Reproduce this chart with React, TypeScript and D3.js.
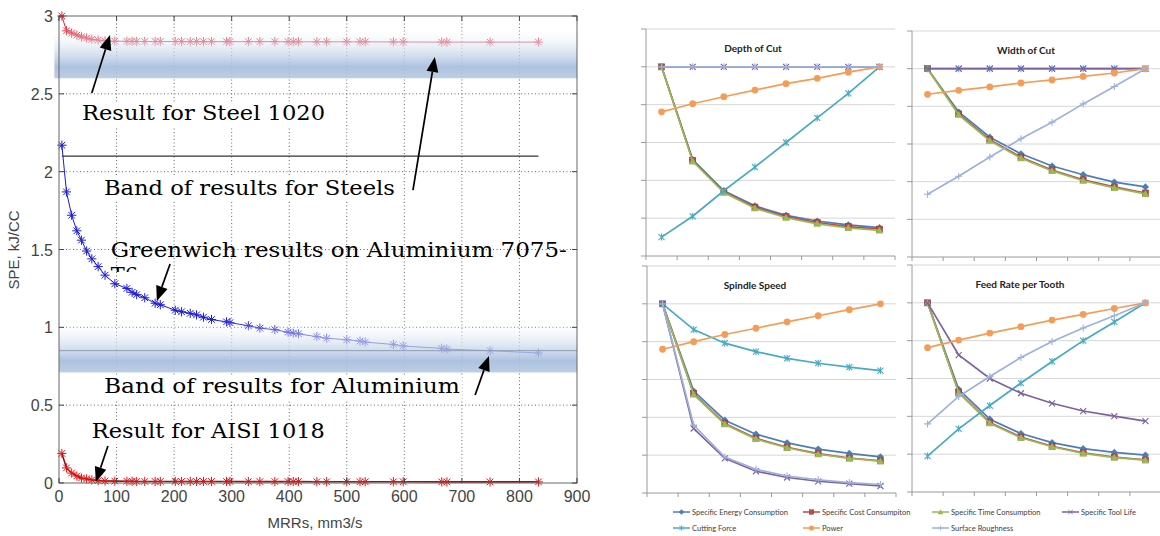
import * as d3 from "d3";

// ---------- left chart (MATLAB style) ----------
const mrr = [5, 13, 22, 31, 39, 48, 57, 68, 80, 97, 118, 127, 135, 149, 167, 176, 202, 213, 228, 239, 251, 265, 291, 297, 329, 349, 375, 398, 407, 416, 448, 465, 500, 523, 532, 581, 598, 665, 674, 749, 833];
const steel1020 = [3.0, 2.905, 2.89, 2.877, 2.866, 2.858, 2.85, 2.845, 2.84, 2.838, 2.837, 2.837, 2.836, 2.836, 2.836, 2.836, 2.836, 2.835, 2.835, 2.835, 2.835, 2.835, 2.835, 2.835, 2.835, 2.835, 2.835, 2.834, 2.834, 2.834, 2.834, 2.834, 2.834, 2.834, 2.834, 2.833, 2.833, 2.832, 2.832, 2.832, 2.832];
const al7075 = [2.17, 1.87, 1.72, 1.62, 1.56, 1.49, 1.44, 1.39, 1.335, 1.28, 1.25, 1.225, 1.21, 1.19, 1.155, 1.145, 1.11, 1.1, 1.09, 1.08, 1.065, 1.05, 1.035, 1.03, 1.01, 0.995, 0.985, 0.968, 0.962, 0.958, 0.94, 0.93, 0.92, 0.912, 0.905, 0.89, 0.88, 0.865, 0.86, 0.85, 0.835];
const aisi1018 = [0.19, 0.097, 0.064, 0.045, 0.032, 0.026, 0.02, 0.015, 0.013, 0.012, 0.011, 0.011, 0.01, 0.01, 0.01, 0.01, 0.01, 0.01, 0.01, 0.01, 0.01, 0.01, 0.01, 0.01, 0.009, 0.009, 0.009, 0.009, 0.009, 0.009, 0.008, 0.008, 0.008, 0.008, 0.008, 0.008, 0.008, 0.007, 0.007, 0.007, 0.007];

const xTicks = [0, 100, 200, 300, 400, 500, 600, 700, 800, 900];
const yTicks = [0, 0.5, 1, 1.5, 2, 2.5, 3];

const steelBand = [2.6, 2.935];
const aluBand = [0.71, 1.05];
const aluBandLine = 0.85;
const steelRefLine = 2.1;

const labels = [
  { text: "Result for Steel 1020", x: 40, y: 2.332, w: 243, box: true },
  { text: "Band of results for Steels", x: 78, y: 1.85, w: 291, box: true },
  { text: "Greenwich results on Aluminium 7075-", x: 90, y: 1.452, w: 456, box: false },
  { text: "Band of results for Aluminium", x: 78, y: 0.578, w: 356, box: true },
  { text: "Result for AISI 1018", x: 57, y: 0.289, w: 233, box: true },
];
const arrows = [
  { x1: 57, y1: 2.505, x2: 88.6, y2: 2.878 },
  { x1: 615, y1: 1.882, x2: 653, y2: 2.737 },
  { x1: 193, y1: 1.407, x2: 170, y2: 1.169 },
  { x1: 723, y1: 0.565, x2: 747, y2: 0.816 },
  { x1: 85, y1: 0.238, x2: 64, y2: 0.006 },
];

// ---------- right panels (Excel style) ----------
const levels = ["1", "2", "3", "4", "5", "6", "7", "8"];
const seriesNames = ["Specific Energy Consumption", "Specific Cost Consumpiton", "Specific Time Consumption", "Specific Tool Life", "Cutting Force", "Power", "Surface Roughness"];
const seriesColors = ["#4a7ebb", "#be4b48", "#98b954", "#7d60a0", "#46aac5", "#f59d56", "#9db1dc"];
const seriesMarkers = ["diamond", "square", "triangle", "x", "star", "circle", "plus"];
const drawOrder = [0, 1, 2, 4, 3, 5, 6];

const docEnergy = [1, 0.51, 0.345, 0.265, 0.215, 0.185, 0.165, 0.15];
const docCost = [1, 0.505, 0.34, 0.258, 0.208, 0.177, 0.155, 0.142];
const docTime = [1, 0.5, 0.335, 0.252, 0.202, 0.17, 0.148, 0.135];
const docToolLife = [1, 1, 1, 1, 1, 1, 1, 1];
const docForce = [0.1, 0.21, 0.345, 0.47, 0.6, 0.73, 0.86, 1];
const docPower = [0.762, 0.805, 0.842, 0.877, 0.911, 0.939, 0.972, 1];
const docRoughness = [1, 1, 1, 1, 1, 1, 1, 1];

const wocEnergy = [1, 0.77, 0.636, 0.548, 0.483, 0.437, 0.398, 0.372];
const wocCost = [1, 0.76, 0.622, 0.53, 0.462, 0.41, 0.372, 0.34];
const wocTime = [1, 0.755, 0.617, 0.525, 0.457, 0.405, 0.367, 0.335];
const wocToolLife = [1, 1, 1, 1, 1, 1, 1, 1];
const wocForce = [1, 1, 1, 1, 1, 1, 1, 1];
const wocPower = [0.864, 0.885, 0.903, 0.924, 0.94, 0.959, 0.977, 1];
const wocRoughness = [0.333, 0.429, 0.531, 0.628, 0.716, 0.813, 0.905, 1];

const ssEnergy = [1, 0.539, 0.385, 0.311, 0.265, 0.232, 0.209, 0.191];
const ssCost = [1, 0.525, 0.367, 0.289, 0.242, 0.208, 0.185, 0.17];
const ssTime = [1, 0.521, 0.363, 0.285, 0.239, 0.205, 0.183, 0.168];
const ssToolLife = [1, 0.341, 0.183, 0.115, 0.082, 0.062, 0.05, 0.037];
const ssForce = [1, 0.864, 0.792, 0.747, 0.712, 0.686, 0.665, 0.647];
const ssPower = [0.76, 0.8, 0.838, 0.871, 0.905, 0.937, 0.969, 1];
const ssRoughness = [1, 0.359, 0.19, 0.125, 0.09, 0.07, 0.055, 0.045];

const frEnergy = [1, 0.543, 0.385, 0.309, 0.261, 0.229, 0.209, 0.195];
const frCost = [1, 0.528, 0.367, 0.29, 0.242, 0.207, 0.185, 0.17];
const frTime = [1, 0.525, 0.363, 0.287, 0.239, 0.204, 0.182, 0.168];
const frToolLife = [1, 0.724, 0.6, 0.522, 0.469, 0.428, 0.401, 0.375];
const frForce = [0.19, 0.334, 0.457, 0.576, 0.69, 0.8, 0.899, 1];
const frPower = [0.763, 0.803, 0.84, 0.874, 0.909, 0.939, 0.97, 1];
const frRoughness = [0.36, 0.505, 0.611, 0.711, 0.796, 0.867, 0.932, 1];

const panels = [
  { title: "Depth of Cut", left: 646, top: 29, bottom: 256, titleX: 107, data: [docEnergy, docCost, docTime, docToolLife, docForce, docPower, docRoughness] },
  { title: "Width of Cut", left: 912, top: 31, bottom: 257, titleX: 114, data: [wocEnergy, wocCost, wocTime, wocToolLife, wocForce, wocPower, wocRoughness] },
  { title: "Spindle Speed", left: 647, top: 266, bottom: 493, titleX: 108, data: [ssEnergy, ssCost, ssTime, ssToolLife, ssForce, ssPower, ssRoughness] },
  { title: "Feed Rate per Tooth", left: 912, top: 265, bottom: 492, titleX: 108, data: [frEnergy, frCost, frTime, frToolLife, frForce, frPower, frRoughness] },
];

const excelFont = "Lato, 'Open Sans', sans-serif";

function starPath(cx: number, cy: number, r: number) {
  const d = r * 0.72;
  return `M${cx - r},${cy}h${2 * r}M${cx},${cy - r}v${2 * r}M${cx - d},${cy - d}l${2 * d},${2 * d}M${cx - d},${cy + d}l${2 * d},${-2 * d}`;
}

function Arrow({ x1, y1, x2, y2 }: { x1: number; y1: number; x2: number; y2: number }) {
  const a = Math.atan2(y2 - y1, x2 - x1);
  const L = 15, W = 6;
  const bx = x2 - L * Math.cos(a), by = y2 - L * Math.sin(a);
  const pts = [
    [x2, y2],
    [bx + W * Math.sin(a), by - W * Math.cos(a)],
    [bx - W * Math.sin(a), by + W * Math.cos(a)],
  ];
  return (
    <g>
      <line x1={x1} y1={y1} x2={bx} y2={by} stroke="#000" strokeWidth={1.7} />
      <polygon points={pts.map((p) => p.join(",")).join(" ")} fill="#000" />
    </g>
  );
}

function LeftChart() {
  const x = d3.scaleLinear().domain([0, 900]).range([59, 577]);
  const y = d3.scaleLinear().domain([0, 3]).range([483, 16]);
  const line = d3.line<number>().x((_, i) => x(mrr[i])).y((d) => y(d));
  const [x0, x1] = x.range();
  const [y0, y1] = y.range();

  const series = [
    { values: steel1020, color: "#e02a3c" },
    { values: al7075, color: "#1a1ad8" },
    { values: aisi1018, color: "#e01414", lineColor: "#a80a0a" },
  ];

  return (
    <g>
      <defs>
        <linearGradient id="bandGrad" x1="0" y1="0" x2="0" y2="1">
          <stop offset="0%" stopColor="#ffffff" stopOpacity={0} />
          <stop offset="35%" stopColor="#e3eaf4" stopOpacity={0.6} />
          <stop offset="78%" stopColor="#a4bcdc" stopOpacity={0.9} />
          <stop offset="100%" stopColor="#b6c9e3" stopOpacity={0.9} />
        </linearGradient>
        <clipPath id="t6clip">
          <rect x={100} y={255} width={60} height={17} />
        </clipPath>
      </defs>

      {/* grid */}
      {xTicks.slice(1, -1).map((t) => (
        <line key={"gx" + t} x1={x(t)} x2={x(t)} y1={y0} y2={y1} stroke="#666" strokeWidth={1} strokeDasharray="1,2.5" />
      ))}
      {yTicks.slice(1, -1).map((t) => (
        <line key={"gy" + t} x1={x0} x2={x1} y1={y(t)} y2={y(t)} stroke="#666" strokeWidth={1} strokeDasharray="1,2.5" />
      ))}

      {/* reference line */}
      <line x1={x(mrr[0])} x2={x(mrr[mrr.length - 1])} y1={y(steelRefLine)} y2={y(steelRefLine)} stroke="#000" strokeWidth={1} />

      {/* series */}
      {series.map((s, k) => (
        <g key={k}>
          <path d={line(s.values) || ""} fill="none" stroke={s.lineColor || s.color} strokeWidth={k === 2 ? 1.6 : 1} />
          {s.values.map((v, i) => (
            <path key={i} d={starPath(x(mrr[i]), y(v), 4.6)} stroke={s.color} strokeWidth={1} fill="none" />
          ))}
        </g>
      ))}

      {/* bands drawn over the series */}
      <rect x={x(-8)} y={y(steelBand[1])} width={x1 - x(-8)} height={y(steelBand[0]) - y(steelBand[1])} fill="url(#bandGrad)" />
      <rect x={x0} y={y(aluBand[1])} width={x1 - x0} height={y(aluBand[0]) - y(aluBand[1])} fill="url(#bandGrad)" />
      <line x1={x0} x2={x1} y1={y(aluBandLine)} y2={y(aluBandLine)} stroke="#8d9cb2" strokeWidth={1} />

      {/* axes box */}
      <rect x={x0} y={y1} width={x1 - x0} height={y0 - y1} fill="none" stroke="#666" strokeWidth={1} />
      {xTicks.map((t) => (
        <g key={"tx" + t}>
          <line x1={x(t)} x2={x(t)} y1={y0} y2={y0 - 5} stroke="#444" />
          <line x1={x(t)} x2={x(t)} y1={y1} y2={y1 + 5} stroke="#444" />
          <text x={x(t)} y={y0 + 19} textAnchor="middle" fontFamily="'Liberation Sans', Arial, sans-serif" fontSize={16} fill="#444">{t}</text>
        </g>
      ))}
      {yTicks.map((t) => (
        <g key={"ty" + t}>
          <line x1={x0} x2={x0 + 5} y1={y(t)} y2={y(t)} stroke="#444" />
          <line x1={x1} x2={x1 - 5} y1={y(t)} y2={y(t)} stroke="#444" />
          <text x={x0 - 6} y={y(t) + 6} textAnchor="end" fontFamily="'Liberation Sans', Arial, sans-serif" fontSize={16} fill="#444">{t}</text>
        </g>
      ))}
      <text x={(x0 + x1) / 2 - 3} y={528} textAnchor="middle" fontFamily="'Liberation Sans', Arial, sans-serif" fontSize={15} fill="#444">MRRs, mm3/s</text>
      <text transform={`translate(19,250) rotate(-90)`} textAnchor="middle" fontFamily="'Liberation Sans', Arial, sans-serif" fontSize={15} fill="#444">SPE, kJ/CC</text>

      {/* annotations */}
      {labels.map((l, i) => (
        <g key={"l" + i}>
          {l.box && <rect x={x(l.x) - 2} y={y(l.y) - 18} width={l.w + 4} height={24} fill="#fff" />}
          <text x={x(l.x)} y={y(l.y)} fontFamily="'DejaVu Serif', serif" fontSize={21} textLength={l.w} lengthAdjust="spacingAndGlyphs" fill="#000">{l.text}</text>
        </g>
      ))}
      <text x={x(90)} y={282} fontFamily="'DejaVu Serif', serif" fontSize={21} fill="#000" clipPath="url(#t6clip)">T6</text>
      {arrows.map((a, i) => (
        <Arrow key={"a" + i} x1={x(a.x1)} y1={y(a.y1)} x2={x(a.x2)} y2={y(a.y2)} />
      ))}
    </g>
  );
}

function Marker({ type, cx, cy, color }: { type: string; cx: number; cy: number; color: string }) {
  switch (type) {
    case "diamond":
      return <path d={`M${cx},${cy - 3.6}L${cx + 3.6},${cy}L${cx},${cy + 3.6}L${cx - 3.6},${cy}Z`} fill={color} />;
    case "square":
      return <rect x={cx - 3} y={cy - 3} width={6} height={6} fill={color} stroke="#8b3a38" strokeWidth={0.6} />;
    case "triangle":
      return <path d={`M${cx},${cy - 3.8}L${cx + 3.8},${cy + 3}L${cx - 3.8},${cy + 3}Z`} fill={color} />;
    case "x":
      return <path d={`M${cx - 3},${cy - 3}l6,6M${cx - 3},${cy + 3}l6,-6`} stroke={color} strokeWidth={1.1} />;
    case "star":
      return <path d={`M${cx - 3},${cy - 3}l6,6M${cx - 3},${cy + 3}l6,-6M${cx},${cy - 3.5}v7`} stroke={color} strokeWidth={1.1} />;
    case "circle":
      return <circle cx={cx} cy={cy} r={3.4} fill={color} />;
    default:
      return <path d={`M${cx - 3.5},${cy}h7M${cx},${cy - 3.5}v7`} stroke={color} strokeWidth={1.1} />;
  }
}

function Panel({ title, left, top, bottom, titleX, data }: { title: string; left: number; top: number; bottom: number; titleX: number; data: number[][] }) {
  const x = d3.scaleBand<string>().domain(levels).range([left, left + 249]);
  const y = d3.scaleLinear().domain([0, 1.2]).range([bottom, top]);
  const gridVals = [0.2, 0.4, 0.6, 0.8, 1.0, 1.2];
  const tickVals = [0, 0.2, 0.4, 0.6, 0.8, 1.0, 1.2];
  const cx = (i: number) => (x(levels[i]) as number) + x.bandwidth() / 2;
  const line = d3.line<number>().x((_, i) => cx(i)).y((d) => y(d));
  const [r0, r1] = x.range();

  return (
    <g>
      {gridVals.map((g) => (
        <line key={g} x1={r0} x2={r1} y1={y(g)} y2={y(g)} stroke="#d6d6d6" strokeWidth={1} />
      ))}
      <line x1={r0} x2={r0} y1={y(1.2)} y2={y(0)} stroke="#9a9a9a" />
      <line x1={r0} x2={r1} y1={y(0)} y2={y(0)} stroke="#9a9a9a" />
      {tickVals.map((t) => (
        <line key={"t" + t} x1={r0 - 5} x2={r0} y1={y(t)} y2={y(t)} stroke="#9a9a9a" />
      ))}
      {levels.concat(["end"]).map((l, i) => {
        const px = r0 + i * x.bandwidth();
        return <line key={"xt" + i} x1={px} x2={px} y1={y(0)} y2={y(0) + 4} stroke="#9a9a9a" />;
      })}
      <text x={left + titleX} y={top + 23} textAnchor="middle" fontFamily={excelFont} fontWeight="bold" fontSize={10} fill="#222">{title}</text>
      {drawOrder.map((si) => (
        <g key={si}>
          <path d={line(data[si]) || ""} fill="none" stroke={seriesColors[si]} strokeWidth={1.7} />
          {data[si].map((v, i) => (
            <Marker key={i} type={seriesMarkers[si]} cx={cx(i)} cy={y(v)} color={seriesColors[si]} />
          ))}
        </g>
      ))}
    </g>
  );
}

function Legend() {
  const cols = [673, 803, 932, 1062];
  const rows = [512, 528];
  const layout = [
    [0, 0, 0], [1, 0, 1], [2, 0, 2], [3, 0, 3],
    [4, 1, 0], [5, 1, 1], [6, 1, 2],
  ];
  return (
    <g>
      {layout.map(([si, r, c]) => (
        <g key={si}>
          <line x1={cols[c]} x2={cols[c] + 17} y1={rows[r]} y2={rows[r]} stroke={seriesColors[si]} strokeWidth={1.5} />
          <g transform={`translate(${cols[c] + 8.5},${rows[r]}) scale(0.75) translate(${-(cols[c] + 8.5)},${-rows[r]})`}>
            <Marker type={seriesMarkers[si]} cx={cols[c] + 8.5} cy={rows[r]} color={seriesColors[si]} />
          </g>
          <text x={cols[c] + 19} y={rows[r] + 2.6} fontFamily={excelFont} fontSize={7.5} fill="#404040">{seriesNames[si]}</text>
        </g>
      ))}
    </g>
  );
}

export default function App() {
  return (
    <svg width={1160} height={536} style={{ position: "absolute", left: 0, top: 0, background: "#fff" }}>
      <rect width={1160} height={536} fill="#fff" />
      <LeftChart />
      {panels.map((p) => (
        <Panel key={p.title} {...p} />
      ))}
      <Legend />
    </svg>
  );
}
